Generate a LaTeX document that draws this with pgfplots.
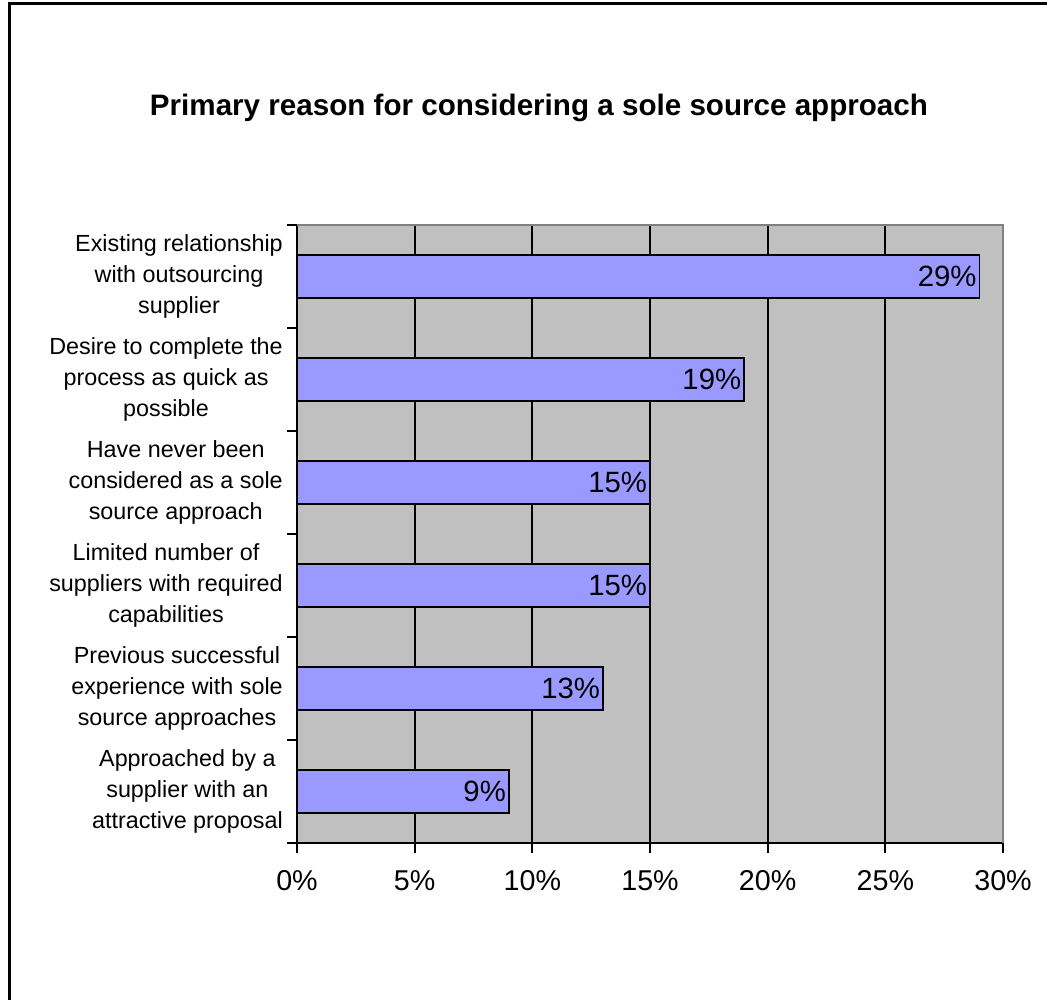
\documentclass[border=0pt]{standalone}
\usepackage{fontspec}
\setmainfont{Liberation Sans}
\usepackage{pgfplots}
\pgfplotsset{compat=1.18}
\definecolor{plotgray}{HTML}{C0C0C0}
\definecolor{barblue}{HTML}{9999FF}
\definecolor{bordergray}{HTML}{808080}
\begin{document}
\begin{tikzpicture}[x=0.75pt,y=0.75pt]
\useasboundingbox (0,0) rectangle (1047,1000);
\clip (0,0) rectangle (1047,1000);
\draw[line width=2.25pt] (9,-60) rectangle (1120,996);
\node[anchor=base, font=\bfseries\fontsize{22.2}{26}\selectfont] at (539,884) {Primary reason for considering a sole source approach};
\begin{axis}[
  at={(222.75pt,117.75pt)}, anchor=south west,
  width=529.5pt, height=463.5pt, scale only axis,
  xbar, bar width=32.25pt,
  xmin=0, xmax=30, ymin=0.5, ymax=6.5,
  axis x line*=bottom, axis y line*=left,
  axis line style={black, line width=1.4pt},
  axis background/.style={fill=plotgray},
  xtick={0,5,...,30},
  xticklabel={\pgfmathprintnumber{\tick}\%},
  /pgf/number format/assume math mode=true,
  tick align=outside,
  major tick length=7.5pt,
  minor tick length=7.5pt,
  tick style={black, line width=1.4pt},
  xmajorgrids,
  major x grid style={black, line width=1.4pt},
  ytick={1,2,3,4,5,6},
  minor ytick={0.5,1.5,2.5,3.5,4.5,5.5,6.5},
  major y tick style={draw=none},
  yticklabels={
    {Approached by a\\supplier with an\\attractive proposal},
    {Previous successful\\experience with sole\\source approaches},
    {Limited number of\\suppliers with required\\capabilities},
    {Have never been\\considered as a sole\\source approach},
    {Desire to complete the\\process as quick as\\possible},
    {Existing relationship\\with outsourcing\\supplier}},
  yticklabel style={align=center, anchor=east, font=\fontsize{17.5}{23.25}\selectfont, inner sep=0pt, xshift=-3pt},
  xticklabel style={font=\fontsize{21.5}{25}\selectfont, yshift=-9.5pt},
  point meta=x,
  nodes near coords={\pgfmathprintnumber{\pgfplotspointmeta}\%},
  every node near coord/.append style={anchor=east, inner sep=1.5pt, font=\fontsize{22}{26}\selectfont, black},
  clip=false,
]
\addplot[fill=barblue, draw=black, line width=1.4pt] coordinates {
  (9,1) (13,2) (15,3) (15,4) (19,5) (29,6)
};
\draw[bordergray, line width=1.5pt] (rel axis cs:0,1) -- (rel axis cs:1,1) -- (rel axis cs:1,0);
\end{axis}
\end{tikzpicture}
\end{document}
